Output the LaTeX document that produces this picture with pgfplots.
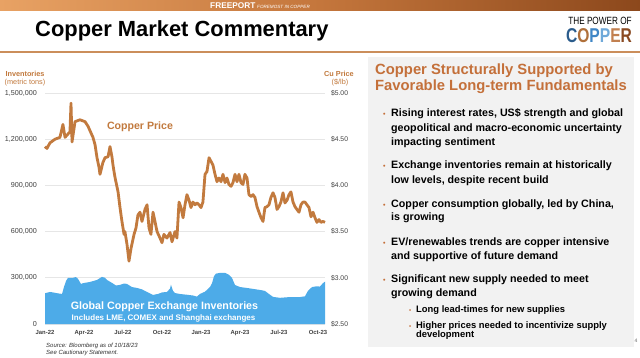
\documentclass[border=0pt]{standalone}
\usepackage{pgfplots}
\usepackage{pgfplotstable}
\pgfplotsset{compat=1.18}
\usepackage{fontspec}
\setmainfont{Liberation Sans}
\definecolor{copper}{HTML}{C27A3E}
\definecolor{cuhead}{HTML}{C4703A}
\definecolor{invblue}{HTML}{4DABE8}
\definecolor{panel}{HTML}{F2F2F2}
\definecolor{gridc}{HTML}{E6E6E6}
\definecolor{tickc}{HTML}{404040}
\pgfplotsset{/pgf/number format/assume math mode=true}

% months since 1 Jan 2022, copper price in $/lb
\pgfplotstableread{
m p
0.00 4.42
0.15 4.40
0.38 4.46
0.77 4.50
1.15 4.52
1.38 4.66
1.54 4.52
1.92 4.58
2.00 4.89
2.08 4.47
2.31 4.69
2.69 4.71
3.08 4.69
3.31 4.64
3.69 4.52
3.85 4.44
4.00 4.30
4.15 4.20
4.23 4.12
4.46 4.25
4.62 4.30
4.85 4.31
5.00 4.42
5.15 4.31
5.23 4.22
5.38 4.09
5.62 3.93
5.77 3.76
5.92 3.61
6.08 3.47
6.15 3.50
6.31 3.36
6.46 3.18
6.62 3.32
6.85 3.47
7.00 3.54
7.15 3.68
7.31 3.71
7.46 3.61
7.69 3.74
7.85 3.79
8.00 3.54
8.15 3.47
8.31 3.71
8.46 3.61
8.62 3.50
8.85 3.43
9.00 3.38
9.15 3.47
9.38 3.43
9.62 3.49
9.77 3.39
10.00 3.50
10.15 3.43
10.31 3.82
10.46 3.76
10.62 3.65
10.77 3.79
10.92 3.90
11.08 3.84
11.23 3.76
11.38 3.82
11.54 3.79
11.69 3.81
11.85 3.79
12.00 3.76
12.15 3.82
12.31 4.12
12.46 4.15
12.62 4.30
12.77 4.26
12.92 4.22
13.08 4.12
13.23 4.04
13.38 4.08
13.54 4.04
13.69 4.12
13.85 4.03
14.00 4.08
14.15 4.01
14.31 3.99
14.46 4.03
14.62 4.12
14.77 4.04
14.92 4.12
15.08 4.03
15.23 4.01
15.38 4.12
15.54 4.08
15.69 3.90
15.85 3.88
16.00 3.90
16.15 3.87
16.31 3.77
16.46 3.71
16.62 3.65
16.77 3.61
16.92 3.76
17.08 3.77
17.23 3.79
17.38 3.87
17.54 3.92
17.69 3.87
17.85 3.74
18.00 3.77
18.15 3.82
18.31 3.92
18.46 3.81
18.62 3.84
18.77 3.90
18.92 3.93
19.08 3.82
19.23 3.77
19.38 3.74
19.54 3.71
19.69 3.79
19.85 3.82
20.00 3.82
20.15 3.79
20.31 3.76
20.46 3.66
20.62 3.71
20.77 3.65
20.92 3.60
21.08 3.63
21.23 3.60
21.38 3.61
21.54 3.60
}\pricetable

% months since 1 Jan 2022, global exchange inventories in metric tons
\pgfplotstableread{
m v
0.00 200000
0.38 208000
0.62 205000
0.92 200000
1.31 195000
1.46 240000
1.62 280000
1.77 300000
2.15 300000
2.38 305000
2.54 293000
2.77 260000
2.92 265000
3.46 273000
4.00 286000
4.38 306000
4.62 300000
4.77 286000
5.15 267000
5.46 250000
5.77 254000
6.08 263000
6.31 260000
6.69 240000
7.08 234000
7.46 225000
7.85 208000
8.31 189000
8.69 195000
9.00 205000
9.38 208000
9.62 230000
9.69 255000
9.85 215000
10.00 201000
10.38 195000
10.92 190000
11.38 185000
11.69 178000
11.92 195000
12.31 210000
12.69 240000
12.85 265000
13.00 310000
13.15 327000
13.46 332000
13.85 332000
14.15 320000
14.38 300000
14.62 253000
15.00 240000
15.54 234000
16.00 228000
16.54 221000
16.92 215000
17.15 200000
17.54 176000
18.08 170000
18.85 175000
19.62 175000
20.00 180000
20.23 215000
20.54 240000
20.92 245000
21.15 243000
21.38 265000
21.54 275000
}\invtable

\begin{document}
\begin{tikzpicture}[x=1pt,y=1pt]
\useasboundingbox (0,0) rectangle (640,357);
\fill[white] (0,0) rectangle (640,357);
% top banner
\shade[left color={rgb,255:red,232;green,162;blue,100}, right color={rgb,255:red,140;green,72;blue,28}, middle color={rgb,255:red,196;green,118;blue,60}] (0,346) rectangle (640,357);
\node[anchor=base west, inner sep=0, text=white, font=\bfseries\fontsize{8.3}{8.3}\selectfont] at (210,348.5) {FREEPORT};
\node[anchor=base west, inner sep=0, text=white, font=\itshape\fontsize{4.6}{4.6}\selectfont] at (257,348.5) {FOREMOST IN COPPER};
% title
\node[anchor=base west, inner sep=0, font=\bfseries\fontsize{21.9}{22}\selectfont] at (35,320) {Copper Market Commentary};
% logo
\node[anchor=base, inner sep=0, xscale=0.78, font=\fontsize{10.5}{10.5}\selectfont] at (600,332.5) {THE POWER OF};
\node[anchor=base, inner sep=0, xscale=0.78, font=\bfseries\fontsize{20}{20}\selectfont] at (599,314.5)
  {\textcolor[HTML]{2B5C8C}{C}\textcolor[HTML]{B0703A}{O}\textcolor[HTML]{3F86C6}{P}\textcolor[HTML]{6FA9D9}{P}\textcolor[HTML]{C28050}{E}\textcolor[HTML]{8A4A22}{R}};
% orange rule
\fill[copper!85] (0,303.5) rectangle (640,305.5);
% right panel
\fill[panel] (368,10) rectangle (634,300);
\node[anchor=base west, inner sep=0, text=cuhead, font=\bfseries\fontsize{14.8}{15}\selectfont] at (375,283) {Copper Structurally Supported by};
\node[anchor=base west, inner sep=0, text=cuhead, font=\bfseries\fontsize{14.8}{15}\selectfont] at (375,267) {Favorable Long-term Fundamentals};
\begin{scope}[every node/.style={anchor=base west, inner sep=0, font=\bfseries\fontsize{10.7}{11}\selectfont}]
\node[text=cuhead, font=\bfseries\fontsize{7}{7}\selectfont] at (383,240.3) {•};
\node at (391,240.3) {Rising interest rates, US\$ strength and global};
\node at (391,226) {geopolitical and macro-economic uncertainty};
\node at (391,211.3) {impacting sentiment};
\node[text=cuhead, font=\bfseries\fontsize{7}{7}\selectfont] at (383,188.7) {•};
\node at (391,188.7) {Exchange inventories remain at historically};
\node at (391,173.7) {low levels, despite recent build};
\node[text=cuhead, font=\bfseries\fontsize{7}{7}\selectfont] at (383,149.7) {•};
\node at (391,149.7) {Copper consumption globally, led by China,};
\node at (391,136.3) {is growing};
\node[text=cuhead, font=\bfseries\fontsize{7}{7}\selectfont] at (383,112) {•};
\node at (391,112) {EV/renewables trends are copper intensive};
\node at (391,97.7) {and supportive of future demand};
\node[text=cuhead, font=\bfseries\fontsize{7}{7}\selectfont] at (383,74.3) {•};
\node at (391,74.3) {Significant new supply needed to meet};
\node at (391,60.3) {growing demand};
\node[text=cuhead, font=\bfseries\fontsize{6}{6}\selectfont] at (409,44.3) {•};
\node[font=\bfseries\fontsize{9.4}{9.4}\selectfont] at (416,44.3) {Long lead-times for new supplies};
\node[text=cuhead, font=\bfseries\fontsize{6}{6}\selectfont] at (409,28.7) {•};
\node[font=\bfseries\fontsize{9.4}{9.4}\selectfont] at (416,28.7) {Higher prices needed to incentivize supply};
\node[font=\bfseries\fontsize{9.4}{9.4}\selectfont] at (416,19.3) {development};
\end{scope}
\node[anchor=base, inner sep=0, text=black!60, font=\fontsize{5}{5}\selectfont] at (636,15) {4};

% inventories axis
\begin{axis}[at={(45pt,33pt)}, anchor=south west, scale only axis,
  width=280pt, height=231pt, xmin=0, xmax=21.54, ymin=0, ymax=1500000,
  axis line style={draw=none}, tick style={draw=none},
  ytick={0,300000,600000,900000,1200000,1500000},
  ymajorgrids, grid style={gridc, line width=1pt},
  xtick={0,3,6,9,12,15,18,21},
  xticklabels={Jan-22,Apr-22,Jul-22,Oct-22,Jan-23,Apr-23,Jul-23,Oct-23},
  xticklabel style={font=\bfseries\fontsize{5.9}{6}\selectfont, text=tickc, yshift=-3pt},
  yticklabel style={font=\fontsize{7.2}{7.2}\selectfont, text=tickc, xshift=-4.5pt,
    /pgf/number format/fixed, /pgf/number format/1000 sep={,}},
  scaled y ticks=false, clip=false]
\addplot[fill=invblue, draw=none] table[x=m,y=v]{\invtable} \closedcycle;
\end{axis}
% price axis
\begin{axis}[at={(45pt,33pt)}, anchor=south west, scale only axis,
  width=280pt, height=231pt, xmin=0, xmax=21.54, ymin=2.5, ymax=5,
  axis y line*=right, axis x line=none,
  axis line style={draw=none}, tick style={draw=none},
  ytick={2.5,3,3.5,4,4.5,5},
  yticklabel={\$\pgfmathprintnumber[fixed,fixed zerofill,precision=2]{\tick}},
  yticklabel style={font=\fontsize{6.8}{6.8}\selectfont, text=tickc, xshift=2.5pt},
  clip=false]
\addplot[copper, line width=2.8pt, line join=round] table[x=m,y=p]{\pricetable};
\end{axis}

% chart annotations
\node[text=copper, font=\bfseries\fontsize{7.3}{7.3}\selectfont] at (25,283) {Inventories};
\node[text=copper, font=\fontsize{7.3}{7.3}\selectfont] at (25,274) {(metric tons)};
\node[text=copper, font=\bfseries\fontsize{7.3}{7.3}\selectfont] at (339,283) {Cu Price};
\node[text=copper, font=\fontsize{7.3}{7.3}\selectfont] at (340,274) {(\$/lb)};
\node[text=copper, font=\bfseries\fontsize{10.6}{10.6}\selectfont] at (140,230) {Copper Price};
\node[text=white, font=\bfseries\fontsize{10.7}{10.7}\selectfont] at (164.5,50) {Global Copper Exchange Inventories};
\node[text=white, font=\bfseries\fontsize{8}{8}\selectfont] at (163.5,39) {Includes LME, COMEX and Shanghai exchanges};
\node[anchor=base west, inner sep=0, text=black!80, font=\itshape\fontsize{6}{6}\selectfont] at (46,10) {Source: Bloomberg as of 10/18/23};
\node[anchor=base west, inner sep=0, text=black!80, font=\itshape\fontsize{6}{6}\selectfont] at (46,2.5) {See Cautionary Statement.};
\end{tikzpicture}
\end{document}
